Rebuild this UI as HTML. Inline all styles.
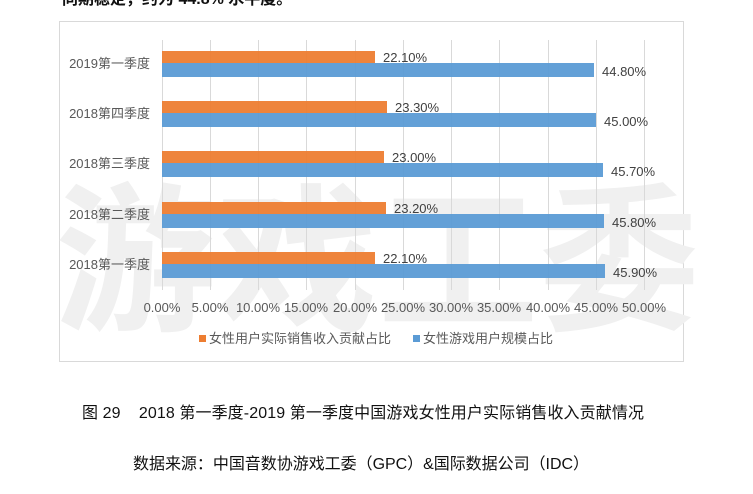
<!DOCTYPE html>
<html><head><meta charset="utf-8"><style>
body{margin:0;width:753px;height:494px;background:#fff;overflow:hidden;position:relative;font-family:"Liberation Sans","Noto Sans CJK SC",sans-serif}
.a{position:absolute;white-space:nowrap}
</style></head><body>
<div class="a" style="left:62px;top:-15px;font-size:16px;font-weight:bold;color:#111">同期稳定，约为 44.8% 水平度。</div>
<svg class="a" style="left:0;top:0" width="753" height="494">
<rect x="59.5" y="21.5" width="624" height="340" fill="#fff" stroke="#d9d9d9"/>
<g fill="#f0f0f0" font-size="160" font-weight="bold" font-family="Noto Sans CJK SC,sans-serif"><text x="55" y="318" textLength="645" lengthAdjust="spacingAndGlyphs">游戏工委</text></g>
<g stroke="#d9d9d9" stroke-width="1">
<line x1="162.5" y1="40" x2="162.5" y2="290"/><line x1="210.5" y1="40" x2="210.5" y2="290"/><line x1="258.5" y1="40" x2="258.5" y2="290"/><line x1="306.5" y1="40" x2="306.5" y2="290"/><line x1="355.5" y1="40" x2="355.5" y2="290"/><line x1="403.5" y1="40" x2="403.5" y2="290"/><line x1="451.5" y1="40" x2="451.5" y2="290"/><line x1="499.5" y1="40" x2="499.5" y2="290"/><line x1="548.5" y1="40" x2="548.5" y2="290"/><line x1="596.5" y1="40" x2="596.5" y2="290"/><line x1="644.5" y1="40" x2="644.5" y2="290"/>
</g>
<g fill="#ed7d31" fill-opacity="0.95">
<rect x="162" y="51" width="213" height="12"/><rect x="162" y="101" width="225" height="12"/><rect x="162" y="151" width="222" height="12"/><rect x="162" y="202" width="224" height="12"/><rect x="162" y="252" width="213" height="12"/>
</g>
<g fill="#5b9bd5" fill-opacity="0.95">
<rect x="162" y="63" width="432" height="14"/><rect x="162" y="113" width="434" height="14"/><rect x="162" y="163" width="441" height="14"/><rect x="162" y="214" width="442" height="14"/><rect x="162" y="264" width="443" height="14"/>
</g>
<g fill="#404040" font-size="13">
<text x="383" y="62">22.10%</text><text x="395" y="112">23.30%</text><text x="392" y="162">23.00%</text><text x="394" y="213">23.20%</text><text x="383" y="263">22.10%</text>
<text x="602" y="76">44.80%</text><text x="604" y="126">45.00%</text><text x="611" y="176">45.70%</text><text x="612" y="227">45.80%</text><text x="613" y="277">45.90%</text>
</g>
<g fill="#595959" font-size="13" text-anchor="end">
<text x="150" y="68">2019第一季度</text><text x="150" y="118">2018第四季度</text><text x="150" y="168">2018第三季度</text><text x="150" y="219">2018第二季度</text><text x="150" y="269">2018第一季度</text>
</g>
<g fill="#595959" font-size="13" text-anchor="middle">
<text x="162" y="312">0.00%</text><text x="210" y="312">5.00%</text><text x="258" y="312">10.00%</text><text x="306" y="312">15.00%</text><text x="355" y="312">20.00%</text><text x="403" y="312">25.00%</text><text x="451" y="312">30.00%</text><text x="499" y="312">35.00%</text><text x="548" y="312">40.00%</text><text x="596" y="312">45.00%</text><text x="644" y="312">50.00%</text>
</g>
<rect x="199" y="335" width="7" height="7" fill="#ed7d31"/>
<text x="209" y="343" fill="#595959" font-size="13">女性用户实际销售收入贡献占比</text>
<rect x="413" y="335" width="7" height="7" fill="#5b9bd5"/>
<text x="423" y="343" fill="#595959" font-size="13">女性游戏用户规模占比</text>
<text x="82" y="418" fill="#111" font-size="16" textLength="562" lengthAdjust="spacing">图 29&#160;&#160;&#160;&#160;2018 第一季度-2019 第一季度中国游戏女性用户实际销售收入贡献情况</text>
<text x="133" y="469" fill="#111" font-size="16" textLength="456" lengthAdjust="spacing">数据来源：中国音数协游戏工委（GPC）&amp;国际数据公司（IDC）</text>
</svg>
</body></html>
